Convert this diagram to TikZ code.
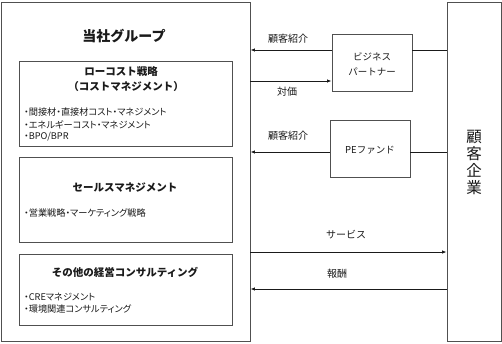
\documentclass[tikz,border=0pt]{standalone}
\usepackage{fontspec}
\setmainfont{Noto Sans CJK JP}
\newfontfamily\pfont[RawFeature=+palt]{Noto Sans CJK JP}
\usetikzlibrary{arrows.meta}
\definecolor{edge}{HTML}{505050}
\definecolor{ink}{HTML}{1A1A1A}
\begin{document}
\begin{tikzpicture}[x=1pt,y=-1pt,
  box/.style={draw=edge,line width=0.9pt,fill=white,inner sep=0pt},
  ttl/.style={font=\fontsize{14}{17}\selectfont\bfseries,text=ink},
  btl/.style={font=\fontsize{10.5}{14}\selectfont\bfseries,text=ink},
  bul/.style={font=\pfont\fontsize{9.2}{10}\selectfont,text=ink,anchor=west,inner sep=0pt},
  lbl/.style={font=\fontsize{10}{11}\selectfont,text=ink},
  arr/.style={draw=ink,line width=0.8pt,-{Latex[length=4.5pt,width=3.5pt]}},
  ln/.style={draw=ink,line width=0.8pt}]
\useasboundingbox (0,0) rectangle (502,343);
\fill[white] (0,0) rectangle (502,343);
% main boxes
\node[box,minimum width=249pt,minimum height=339pt] (grp) at (125.5,171.5) {};
\node[box,minimum width=54pt,minimum height=339pt] (cust) at (474,171.5) {};
\node[box,minimum width=213pt,minimum height=85pt] (b1) at (125.5,103.5) {};
\node[box,minimum width=213pt,minimum height=85pt] (b2) at (125.5,199.5) {};
\node[box,minimum width=213pt,minimum height=71pt] (b3) at (125.5,289.5) {};
\node[box,minimum width=80pt,minimum height=57pt] (bp) at (372,62.5) {};
\node[box,minimum width=80pt,minimum height=57pt] (pe) at (370,148.5) {};
% texts
\node[ttl] (tgrp) at (124,36) {当社グループ};
\node[btl] (t1a) at (121,72) {ローコスト戦略};
\node[btl] (t1b) at (126,86.5) {（コストマネジメント）};
\node[bul] (u1a) at (24,112) {・間接材・直接材コスト・マネジメント};
\node[bul] (u1b) at (24,124.5) {・エネルギーコスト・マネジメント};
\node[bul] (u1c) at (24,137) {・BPO/BPR};
\node[btl] (t2) at (125,188) {セールスマネジメント};
\node[bul] (u2a) at (24,213) {・営業戦略・マーケティング戦略};
\node[btl] (t3) at (125,272) {その他の経営コンサルティング};
\node[bul] (u3a) at (24,297.5) {・CREマネジメント};
\node[bul] (u3b) at (24,309.5) {・環境関連コンサルティング};
\node[lbl,align=center,font=\fontsize{9.5}{15}\selectfont] (tbp) at (372,64.5) {ビジネス\\パートナー};
\node[lbl,font=\fontsize{9.5}{11}\selectfont] (tpe) at (370,150) {PEファンド};
\node[font=\fontsize{15.5}{17}\selectfont,text=ink,align=center] (tcust) at (474,162) {顧\\客\\企\\業};
% connectors
\coordinate (ya) at (0,50);
\coordinate (yb) at (0,81);
\coordinate (yc) at (0,152);
\coordinate (yd) at (0,252);
\coordinate (ye) at (0,289);
\draw[arr] (bp.west |- ya) -- (grp.east |- ya);
\draw[arr] (grp.east |- yb) -- (bp.west |- yb);
\draw[ln] (bp.east |- ya) -- (cust.west |- ya);
\draw[arr] (pe.west |- yc) -- (grp.east |- yc);
\draw[ln] (pe.east |- yc) -- (cust.west |- yc);
\draw[arr] (grp.east |- yd) -- (cust.west |- yd);
\draw[arr] (cust.west |- ye) -- (grp.east |- ye);
% labels
\node[lbl] (la) at (288,38.5) {顧客紹介};
\node[lbl] (lb) at (287,91.5) {対価};
\node[lbl] (lc) at (288,136) {顧客紹介};
\node[lbl] (ld) at (346,235) {サービス};
\node[lbl] (le) at (337,274) {報酬};
\end{tikzpicture}
\end{document}
